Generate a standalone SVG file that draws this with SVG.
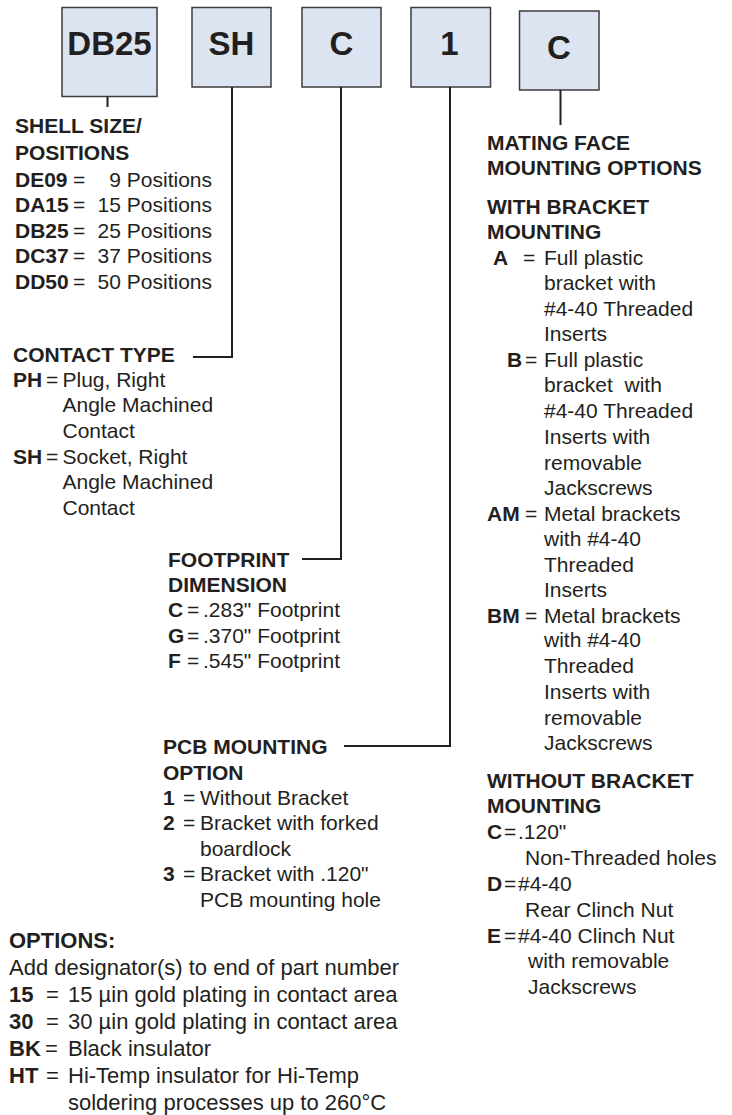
<svg xmlns="http://www.w3.org/2000/svg" width="732" height="1115" viewBox="0 0 732 1115">
<style>
.t{font-family:"Liberation Sans",Arial,sans-serif;font-size:21px;fill:#231f20}
.b{font-weight:bold}
.s{font-size:22px}
.e{text-anchor:end}
.box{fill:#dde4f1;stroke:#3c3c3c;stroke-width:1.5}
.lbl{font-family:"Liberation Sans",Arial,sans-serif;font-size:33px;font-weight:bold;fill:#231f20;text-anchor:middle}
.conn{fill:none;stroke:#231f20;stroke-width:2}
</style>
<rect width="732" height="1115" fill="#ffffff"/>
<g id="box-db25"><rect class="box" x="62" y="7.5" width="95" height="89"/><text class="lbl" x="109.5" y="55">DB25</text></g>
<g id="box-sh"><rect class="box" x="192" y="7.5" width="79" height="79.5"/><text class="lbl" x="231.5" y="55">SH</text></g>
<g id="box-c"><rect class="box" x="302" y="7.5" width="79" height="79.5"/><text class="lbl" x="341.5" y="55">C</text></g>
<g id="box-1"><rect class="box" x="411" y="7.5" width="79.5" height="79.5"/><text class="lbl" x="449.5" y="55">1</text></g>
<g id="box-c2"><rect class="box" x="519.5" y="11" width="79.5" height="79"/><text class="lbl" x="559" y="59">C</text></g>
<g id="connectors">
<path class="conn" d="M107.5,96.5 V107"/>
<path class="conn" d="M232,87 V357 H193"/>
<path class="conn" d="M341,87 V559 H302"/>
<path class="conn" d="M450,87 V746 H344"/>
<path class="conn" d="M560.5,90 V125"/>
</g>
<g id="shell-size">
<text class="t b" x="15" y="132.5">SHELL SIZE/</text>
<text class="t b" x="15" y="160">POSITIONS</text>
<text class="t b" x="15" y="186.5">DE09</text><text class="t" x="73" y="186.5">=</text><text class="t e" x="212" y="186.5">9 Positions</text>
<text class="t b" x="15" y="212">DA15</text><text class="t" x="73" y="212">=</text><text class="t e" x="212" y="212">15 Positions</text>
<text class="t b" x="15" y="237.5">DB25</text><text class="t" x="73" y="237.5">=</text><text class="t e" x="212" y="237.5">25 Positions</text>
<text class="t b" x="15" y="263">DC37</text><text class="t" x="73" y="263">=</text><text class="t e" x="212" y="263">37 Positions</text>
<text class="t b" x="15" y="288.5">DD50</text><text class="t" x="73" y="288.5">=</text><text class="t e" x="212" y="288.5">50 Positions</text>
</g>
<g id="contact-type">
<text class="t b" x="13" y="361.5">CONTACT TYPE</text>
<text class="t b" x="13" y="386.5">PH</text><text class="t" x="46" y="386.5">=</text><text class="t" x="62.5" y="386.5">Plug, Right</text>
<text class="t" x="62.5" y="412">Angle Machined</text>
<text class="t" x="62.5" y="438">Contact</text>
<text class="t b" x="13" y="463.5">SH</text><text class="t" x="46" y="463.5">=</text><text class="t" x="62.5" y="463.5">Socket, Right</text>
<text class="t" x="62.5" y="489">Angle Machined</text>
<text class="t" x="62.5" y="514.5">Contact</text>
</g>
<g id="footprint">
<text class="t b" x="168" y="566.5">FOOTPRINT</text>
<text class="t b" x="168" y="591.5">DIMENSION</text>
<text class="t b" x="168" y="617">C</text><text class="t" x="187" y="617">=</text><text class="t" x="203" y="617">.283" Footprint</text>
<text class="t b" x="168" y="642.5">G</text><text class="t" x="187" y="642.5">=</text><text class="t" x="203" y="642.5">.370" Footprint</text>
<text class="t b" x="168" y="668">F</text><text class="t" x="187" y="668">=</text><text class="t" x="203" y="668">.545" Footprint</text>
</g>
<g id="pcb-mounting">
<text class="t b" x="163" y="754">PCB MOUNTING</text>
<text class="t b" x="163" y="779.5">OPTION</text>
<text class="t b" x="163" y="805">1</text><text class="t" x="183" y="805">=</text><text class="t" x="200" y="805">Without Bracket</text>
<text class="t b" x="163" y="830">2</text><text class="t" x="183" y="830">=</text><text class="t" x="200" y="830">Bracket with forked</text>
<text class="t" x="200" y="855.5">boardlock</text>
<text class="t b" x="163" y="881">3</text><text class="t" x="183" y="881">=</text><text class="t" x="200" y="881">Bracket with .120"</text>
<text class="t" x="200" y="907">PCB mounting hole</text>
</g>
<g id="options">
<text class="t s b" x="9" y="948">OPTIONS:</text>
<text class="t s" x="9" y="975">Add designator(s) to end of part number</text>
<text class="t s b" x="9" y="1002">15</text><text class="t s" x="46" y="1002">=</text><text class="t s" x="68" y="1002">15 µin gold plating in contact area</text>
<text class="t s b" x="9" y="1029">30</text><text class="t s" x="46" y="1029">=</text><text class="t s" x="68" y="1029">30 µin gold plating in contact area</text>
<text class="t s b" x="9" y="1056">BK</text><text class="t s" x="45" y="1056">=</text><text class="t s" x="68" y="1056">Black insulator</text>
<text class="t s b" x="9" y="1083">HT</text><text class="t s" x="46" y="1083">=</text><text class="t s" x="68" y="1083">Hi-Temp insulator for Hi-Temp</text>
<text class="t s" x="68" y="1110">soldering processes up to 260°C</text>
</g>
<g id="mating-face">
<text class="t b" x="487" y="150">MATING FACE</text>
<text class="t b" x="487" y="175">MOUNTING OPTIONS</text>
<text class="t b" x="487" y="213.5">WITH BRACKET</text>
<text class="t b" x="487" y="238.5">MOUNTING</text>
<text class="t b" x="493" y="264.5">A</text><text class="t" x="523" y="264.5">=</text><text class="t" x="544" y="264.5">Full plastic</text>
<text class="t" x="544" y="290">bracket with</text>
<text class="t" x="544" y="316">#4-40 Threaded</text>
<text class="t" x="544" y="341">Inserts</text>
<text class="t b" x="507" y="366.5">B</text><text class="t" x="525" y="366.5">=</text><text class="t" x="544" y="366.5">Full plastic</text>
<text class="t" x="544" y="392">bracket&#160; with</text>
<text class="t" x="544" y="418">#4-40 Threaded</text>
<text class="t" x="544" y="444">Inserts with</text>
<text class="t" x="544" y="469.5">removable</text>
<text class="t" x="544" y="495">Jackscrews</text>
<text class="t b" x="487" y="520.5">AM</text><text class="t" x="525" y="520.5">=</text><text class="t" x="544" y="520.5">Metal brackets</text>
<text class="t" x="544" y="546">with #4-40</text>
<text class="t" x="544" y="571.5">Threaded</text>
<text class="t" x="544" y="597">Inserts</text>
<text class="t b" x="487" y="622.5">BM</text><text class="t" x="525" y="622.5">=</text><text class="t" x="544" y="622.5">Metal brackets</text>
<text class="t" x="544" y="647">with #4-40</text>
<text class="t" x="544" y="673">Threaded</text>
<text class="t" x="544" y="699">Inserts with</text>
<text class="t" x="544" y="724.5">removable</text>
<text class="t" x="544" y="750">Jackscrews</text>
<text class="t b" x="487" y="787.5">WITHOUT BRACKET</text>
<text class="t b" x="487" y="812.5">MOUNTING</text>
<text class="t b" x="487" y="838.5">C</text><text class="t" x="504" y="838.5">=</text><text class="t" x="518" y="838.5">.120"</text>
<text class="t" x="525" y="864.5">Non-Threaded holes</text>
<text class="t b" x="487" y="890.5">D</text><text class="t" x="504" y="890.5">=</text><text class="t" x="518" y="890.5">#4-40</text>
<text class="t" x="525" y="916.5">Rear Clinch Nut</text>
<text class="t b" x="487" y="942.5">E</text><text class="t" x="504" y="942.5">=</text><text class="t" x="518" y="942.5">#4-40 Clinch Nut</text>
<text class="t" x="528" y="968">with removable</text>
<text class="t" x="528" y="994">Jackscrews</text>
</g>
</svg>
